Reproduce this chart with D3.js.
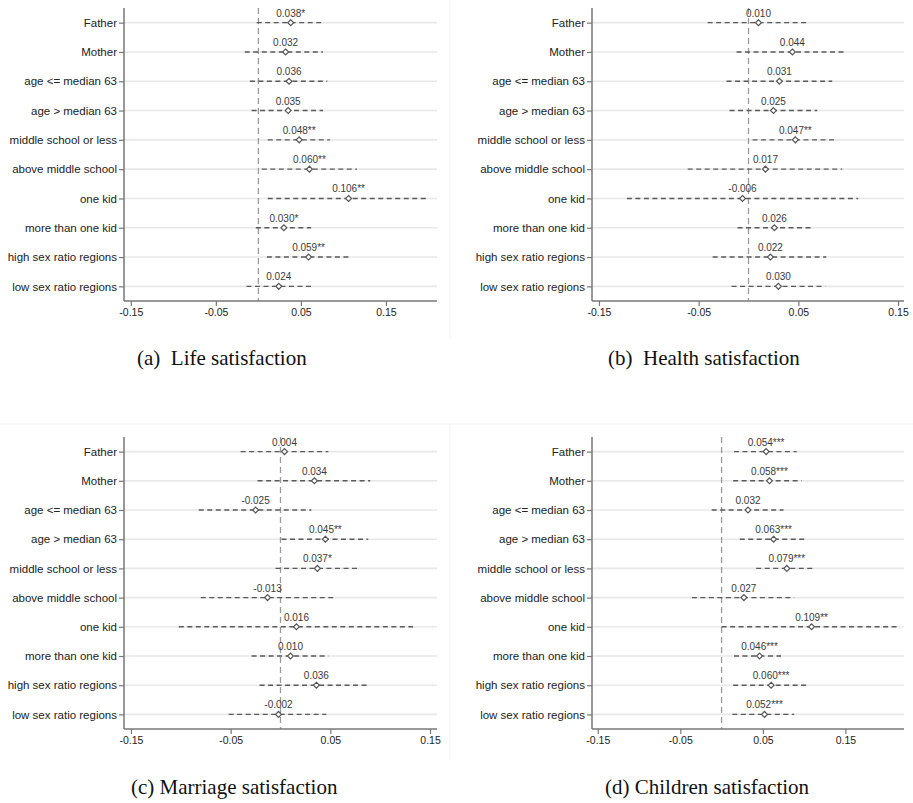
<!DOCTYPE html>
<html>
<head>
<meta charset="utf-8">
<script src="https://cdn.jsdelivr.net/npm/d3@7"></script>
<style>
html,body{margin:0;padding:0;background:#fff;}
svg{display:block;}
</style>
</head>
<body>
<svg id="chart" width="913" height="803"></svg>
<script>
// ---------- DATA ----------
const categories = ["Father","Mother","age <= median 63","age > median 63","middle school or less",
  "above middle school","one kid","more than one kid","high sex ratio regions","low sex ratio regions"];
const xTicks = [-0.15,-0.05,0.05,0.15];

const lifeEst   = [0.038,0.032,0.036,0.035,0.048,0.060,0.106,0.030,0.059,0.024];
const lifeStars = ["*","","","","**","**","**","*","**",""];
const lifeLo    = [-0.002,-0.016,-0.010,-0.008,0.011,0.004,0.011,-0.003,0.010,-0.014];
const lifeHi    = [0.077,0.076,0.081,0.076,0.084,0.116,0.199,0.062,0.108,0.062];

const healthEst   = [0.010,0.044,0.031,0.025,0.047,0.017,-0.006,0.026,0.022,0.030];
const healthStars = ["","","","","**","","","","",""];
const healthLo    = [-0.041,-0.012,-0.022,-0.019,0.004,-0.061,-0.122,-0.011,-0.036,-0.017];
const healthHi    = [0.058,0.097,0.084,0.069,0.089,0.094,0.110,0.063,0.078,0.077];

const marriageEst   = [0.004,0.034,-0.025,0.045,0.037,-0.013,0.016,0.010,0.036,-0.002];
const marriageStars = ["","","","**","*","","","","",""];
const marriageLo    = [-0.040,-0.023,-0.082,0.001,-0.005,-0.080,-0.102,-0.029,-0.021,-0.052];
const marriageHi    = [0.048,0.090,0.031,0.088,0.078,0.054,0.133,0.048,0.088,0.046];

const childrenEst   = [0.054,0.058,0.032,0.063,0.079,0.027,0.109,0.046,0.060,0.052];
const childrenStars = ["***","***","","***","***","","**","***","***","***"];
const childrenLo    = [0.015,0.014,-0.012,0.022,0.042,-0.036,0.000,0.015,0.014,0.013];
const childrenHi    = [0.091,0.097,0.075,0.101,0.112,0.088,0.214,0.072,0.103,0.088];

const captions = ["(a)  Life satisfaction","(b)  Health satisfaction","(c) Marriage satisfaction","(d) Children satisfaction"];

// ---------- LAYOUT ----------
const panels = [
  {est:lifeEst, stars:lifeStars, lo:lifeLo, hi:lifeHi, domain:[-0.158,0.210], x0:124, x1:437, y0:8, y1:301, cap:captions[0], capX:137, capY:365},
  {est:healthEst, stars:healthStars, lo:healthLo, hi:healthHi, domain:[-0.157,0.156], x0:592, x1:904, y0:8, y1:301, cap:captions[1], capX:608, capY:365},
  {est:marriageEst, stars:marriageStars, lo:marriageLo, hi:marriageHi, domain:[-0.157,0.157], x0:124, x1:437, y0:437, y1:729, cap:captions[2], capX:131, capY:794},
  {est:childrenEst, stars:childrenStars, lo:childrenLo, hi:childrenHi, domain:[-0.157,0.221], x0:592, x1:904, y0:437, y1:729, cap:captions[3], capX:605, capY:794}
];

const hyph = f => v => f(v).replace("\u2212","-");
const fmt3 = hyph(d3.format(".3f"));
const fmt2 = hyph(d3.format(".2f"));

const svg = d3.select("#chart");

// faint image borders of stitched sub-figures
svg.append("line").attr("x1",450).attr("x2",450).attr("y1",0).attr("y2",338).attr("stroke","#f2f2f2");
svg.append("line").attr("x1",0).attr("x2",913).attr("y1",424).attr("y2",424).attr("stroke","#f2f2f2");
svg.append("line").attr("x1",450).attr("x2",450).attr("y1",424).attr("y2",760).attr("stroke","#f2f2f2");

const diamond = d3.symbol().type(d3.symbolDiamond2).size(22);

panels.forEach(p => {
  const g = svg.append("g");
  const x = d3.scaleLinear().domain(p.domain).range([p.x0, p.x1]);
  const y = d3.scalePoint().domain(categories).range([p.y0, p.y1]).padding(0.5);
  const rows = categories.map((c,i)=>({c, est:p.est[i], lo:p.lo[i], hi:p.hi[i], lab:fmt3(p.est[i])+p.stars[i]}));

  // gridlines
  g.selectAll(".grid").data(rows).join("line")
    .attr("x1",p.x0).attr("x2",p.x1)
    .attr("y1",d=>y(d.c)).attr("y2",d=>y(d.c))
    .attr("stroke","#e8e8e8").attr("stroke-width",1.6);

  // zero line
  g.append("line").attr("x1",x(0)).attr("x2",x(0)).attr("y1",p.y0).attr("y2",p.y1)
    .attr("stroke","#9a9a9a").attr("stroke-width",1.3).attr("stroke-dasharray","6,4");

  // CI lines
  g.selectAll(".ci").data(rows).join("line")
    .attr("x1",d=>x(d.lo)).attr("x2",d=>x(d.hi))
    .attr("y1",d=>y(d.c)).attr("y2",d=>y(d.c))
    .attr("stroke","#5a5a5a").attr("stroke-width",1.4).attr("stroke-dasharray","5,3.5");

  // points
  g.selectAll(".pt").data(rows).join("path")
    .attr("d",diamond)
    .attr("transform",d=>`translate(${x(d.est)},${y(d.c)})`)
    .attr("fill","#fff").attr("stroke","#555").attr("stroke-width",1.2);

  // value labels
  g.selectAll(".lab").data(rows).join("text")
    .attr("x",d=>x(d.est)).attr("y",d=>y(d.c)-6)
    .attr("text-anchor","middle")
    .attr("font-family","Liberation Sans, Arial, sans-serif").attr("font-size",10)
    .attr("fill","#3a3a3a").text(d=>d.lab);

  // y axis
  const yAxis = g.append("g").attr("transform",`translate(${p.x0},0)`)
    .call(d3.axisLeft(y).tickSize(5).tickPadding(2));
  yAxis.select(".domain").attr("d",`M0,${p.y0}V${p.y1}`).attr("stroke","#777").attr("stroke-width",1.5);
  yAxis.selectAll(".tick line").attr("stroke","#777").attr("stroke-width",1.2);
  yAxis.selectAll(".tick text").attr("font-family","Liberation Sans, Arial, sans-serif").attr("font-size",11.5).attr("fill","#222");

  // x axis
  const xAxis = g.append("g").attr("transform",`translate(0,${p.y1})`)
    .call(d3.axisBottom(x).tickValues(xTicks).tickFormat(fmt2).tickSize(5).tickPadding(3));
  xAxis.select(".domain").attr("d",`M${p.x0},0H${p.x1}`).attr("stroke","#777").attr("stroke-width",1.5);
  xAxis.selectAll(".tick line").attr("stroke","#777").attr("stroke-width",1.2);
  xAxis.selectAll(".tick text").attr("font-family","Liberation Sans, Arial, sans-serif").attr("font-size",10.5).attr("fill","#222");

  // caption
  svg.append("text").attr("x",p.capX).attr("y",p.capY)
    .attr("font-family","Liberation Serif, Times New Roman, serif").attr("font-size",21)
    .attr("fill","#111").style("white-space","pre").text(p.cap);
});
</script>
</body>
</html>
